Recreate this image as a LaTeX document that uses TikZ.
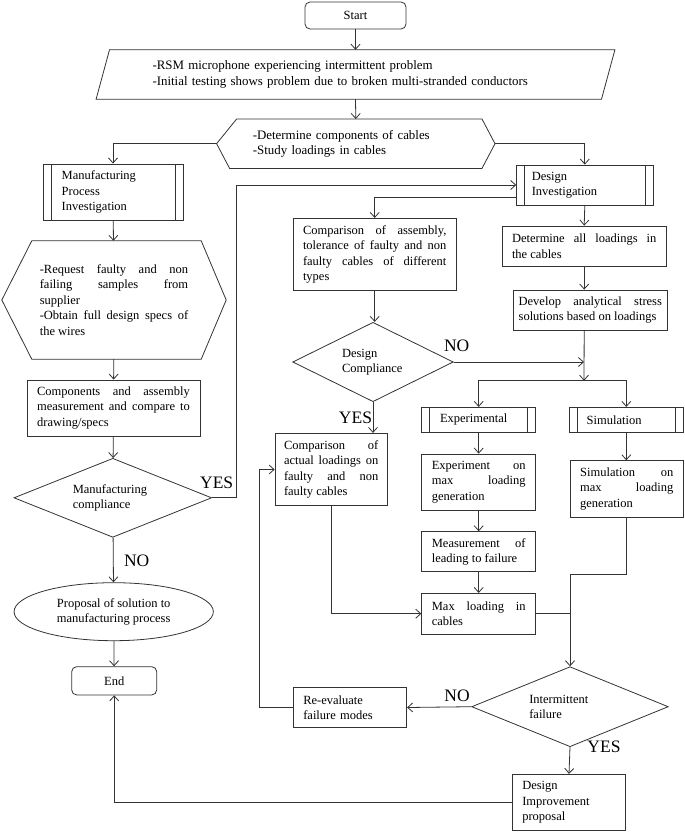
\documentclass[tikz,border=0pt]{standalone}
\usepackage{fontspec}
\setmainfont{Liberation Serif}
\usetikzlibrary{shapes.geometric,arrows.meta}
\setlength{\parindent}{0pt}
\hbadness=10000

\begin{document}
\begin{tikzpicture}[x=1pt,y=-1pt,
  >={Straight Barb[length=5pt,width=9pt]},
  every node/.style={font=\fontsize{12.5}{15.5}\selectfont, inner sep=4pt},
  wide/.style={font=\fontsize{12.9}{15.2}\selectfont},
  wire/.style={draw=black!80, line width=0.8pt},
  blk/.style={wire, rectangle},
  term/.style={blk, rounded corners=5pt},
  proc/.style={blk, path picture={
    \draw[wire] ([xshift=8pt]path picture bounding box.north west) -- ([xshift=8pt]path picture bounding box.south west)
      ([xshift=-8pt]path picture bounding box.north east) -- ([xshift=-8pt]path picture bounding box.south east);}},
  dec/.style={wire, diamond, aspect=2.5, inner sep=0pt, align=left},
  oval/.style={wire, ellipse, inner sep=0pt, align=center},
  lbl/.style={font=\fontsize{17.5}{20}\selectfont, inner sep=0pt}]
\useasboundingbox (0,0) rectangle (685,833);

% Start and problem statement
\node[term, minimum width=101pt, minimum height=27pt] (start) at (355.5,15.5) {Start};
\node[wide, minimum width=505pt, minimum height=49pt, text width=406pt, align=left] (prob) at (355.5,74.5)
  {-RSM microphone experiencing intermittent problem\\-Initial testing shows problem due to broken multi-stranded conductors};
\draw[wire] ([xshift=6.7pt]prob.north west) -- ([xshift=6.7pt]prob.north east)
  -- ([xshift=-6.7pt]prob.south east) -- ([xshift=-6.7pt]prob.south west) -- cycle;

% Cable study
\node[wide, minimum width=278pt, minimum height=49pt, text width=206pt, align=left] (cab) at (355.8,143.7)
  {-Determine components of cables\\-Study loadings in cables};
\draw[wire] ([xshift=20pt]cab.north west) -- ([xshift=-13pt]cab.north east) -- (cab.east)
  -- ([xshift=-13pt]cab.south east) -- ([xshift=13pt]cab.south west) -- (cab.west) -- cycle;

% Manufacturing branch
\node[proc, minimum width=140pt, minimum height=56.7pt, text width=102.6pt, align=left] (mpi) at (113,192.3)
  {Manufacturing\\Process\\Investigation};
\node[minimum width=224pt, minimum height=118pt, text width=148.4pt, align=justify] (req) at (114,300)
  {-Request faulty and non\linebreak failing samples from\linebreak supplier\\-Obtain full design specs of\linebreak the wires};
\draw[wire] ([xshift=30pt]req.north west) -- ([xshift=-25pt]req.north east) -- (req.east)
  -- ([xshift=-25pt]req.south east) -- ([xshift=30pt]req.south west) -- (req.west) -- cycle;
\node[blk, minimum width=173pt, minimum height=56pt, text width=152.7pt, align=justify] (comp) at (113.5,408)
  {Components and assembly\linebreak measurement and compare to\linebreak drawing/specs};
\node[dec, minimum width=197.7pt, minimum height=79pt, text width=80pt] (mc) at (112.8,497.8)
  {Manufacturing\\compliance};
\node[oval, minimum width=199.3pt, minimum height=58pt] (prop) at (113.7,611.7)
  {Proposal of solution to\\manufacturing process};
\node[term, minimum width=85pt, minimum height=28.3pt] (endn) at (114.2,680.8) {End};

% Design branch
\node[proc, minimum width=136.3pt, minimum height=40pt, text width=106pt, align=left] (di) at (584.8,185)
  {Design\\Investigation};
\node[blk, minimum width=162.7pt, minimum height=71.7pt, text width=143.4pt, align=justify] (cas) at (374.7,254.2)
  {Comparison of assembly,\linebreak tolerance of faulty and non\linebreak faulty cables of different\linebreak types};
\node[blk, minimum width=163.7pt, minimum height=40pt, text width=144.4pt, align=justify] (det) at (584.2,246)
  {Determine all loadings in\linebreak the cables};
\node[blk, minimum width=154pt, minimum height=40pt, text width=143.3pt, align=justify] (dev) at (590.3,310)
  {Develop analytical stress\linebreak solutions based on loadings};
\node[dec, minimum width=160.6pt, minimum height=79.4pt, text width=62pt] (dc) at (373,362)
  {Design\\Compliance};
\coordinate (fork) at (584,380.7);

% Experimental and simulation
\node[proc, minimum width=114pt, minimum height=25pt, text width=77.4pt, align=left] (exp) at (478.7,419.8) {Experimental};
\node[proc, minimum width=114pt, minimum height=25pt, text width=79.2pt, align=left] (sim) at (626.3,419.8) {Simulation};
\node[blk, minimum width=112.3pt, minimum height=72.4pt, text width=94.4pt, align=justify] (cal) at (331.2,469.5)
  {Comparison of\linebreak actual loadings on\linebreak faulty and non\linebreak faulty cables};
\node[blk, minimum width=114pt, minimum height=56pt, text width=93.7pt, align=justify] (expm) at (478.7,482)
  {Experiment on\linebreak max loading\linebreak generation};
\node[blk, minimum width=114pt, minimum height=40pt, text width=93.7pt, align=justify] (meas) at (478.7,551.7)
  {Measurement of\linebreak leading to failure};
\node[blk, minimum width=114pt, minimum height=40.7pt, text width=93.7pt, align=justify] (maxl) at (478.7,613.7)
  {Max loading in\linebreak cables};
\node[blk, minimum width=112.3pt, minimum height=56.6pt, text width=93.3pt, align=justify] (simm) at (626.8,489)
  {Simulation on\linebreak max loading\linebreak generation};

% Failure check
\node[dec, minimum width=196.6pt, minimum height=80pt, text width=81.4pt] (intf) at (570,706.7)
  {Intermittent\\failure};
\node[blk, minimum width=113.4pt, minimum height=40.4pt, text width=93.4pt, align=left] (reev) at (350,707.5)
  {Re-evaluate\\failure modes};
\node[blk, minimum width=113.4pt, minimum height=56.4pt, text width=93.4pt, align=left] (dip) at (569,802.5)
  {Design\\Improvement\\proposal};

% Connectors
\draw[wire, ->] (start) -- (prob);
\draw[wire, ->] (prob.south) -- (cab.north);
\draw[wire, ->] (cab.west) -| (mpi.north);
\draw[wire, ->] (cab.east) -| (di.north);
\draw[wire, ->] (mpi) -- (req);
\draw[wire, ->] (req) -- (comp);
\draw[wire, ->] (comp) -- (mc);
\draw[wire, ->] (mc.east) -- ++(24,0) |- (di.west);
\draw[wire, ->] (mc) -- (prop);
\draw[wire, ->] (prop) -- (endn);
\draw[wire, ->] (dip.west) -| (endn.south);
\draw[wire, ->] ([yshift=-12pt]di.west) -| (cas.north);
\draw[wire, ->] (di.south) -- (det.north);
\draw[wire, ->] (det.south) -- (det.south |- dev.north);
\draw[wire, ->] (cas.south) -- (cas.south |- dc.north);
\draw[wire, ->] (det.south |- dev.south) -- (fork);
\draw[wire, ->] (dc.east) -- (dc.east -| fork);
\draw[wire, ->] (fork) -| (exp.north);
\draw[wire, ->] (fork) -| (sim.north);
\draw[wire, ->] (dc.south) -- (dc.south |- cal.north);
\draw[wire, ->] (exp) -- (expm);
\draw[wire, ->] (expm) -- (meas);
\draw[wire, ->] (meas) -- (maxl);
\draw[wire, ->] (sim.south) -- (sim.south |- simm.north);
\draw[wire, ->] (cal.south) |- (maxl.west);
\draw[wire, ->] (simm.south) -- ++(0,57) -| (intf.north);
\draw[wire] (maxl.east) -- (maxl.east -| intf.north);
\draw[wire, ->] (intf.west) -- (reev.east);
\draw[wire, ->] (intf.south) -- (dip.north);
\draw[wire, ->] (reev.west) -- ++(-34,0) |- (cal.west);

% Decision labels
\node[lbl] (yesm) at (216.7,483) {YES};
\node[lbl] (nom) at (136.7,561) {NO};
\node[lbl] (nod) at (456.7,345.8) {NO};
\node[lbl] (yesd) at (355.5,418) {YES};
\node[lbl] (noi) at (457,695.5) {NO};
\node[lbl] (yesi) at (604,747) {YES};
\end{tikzpicture}
\end{document}
